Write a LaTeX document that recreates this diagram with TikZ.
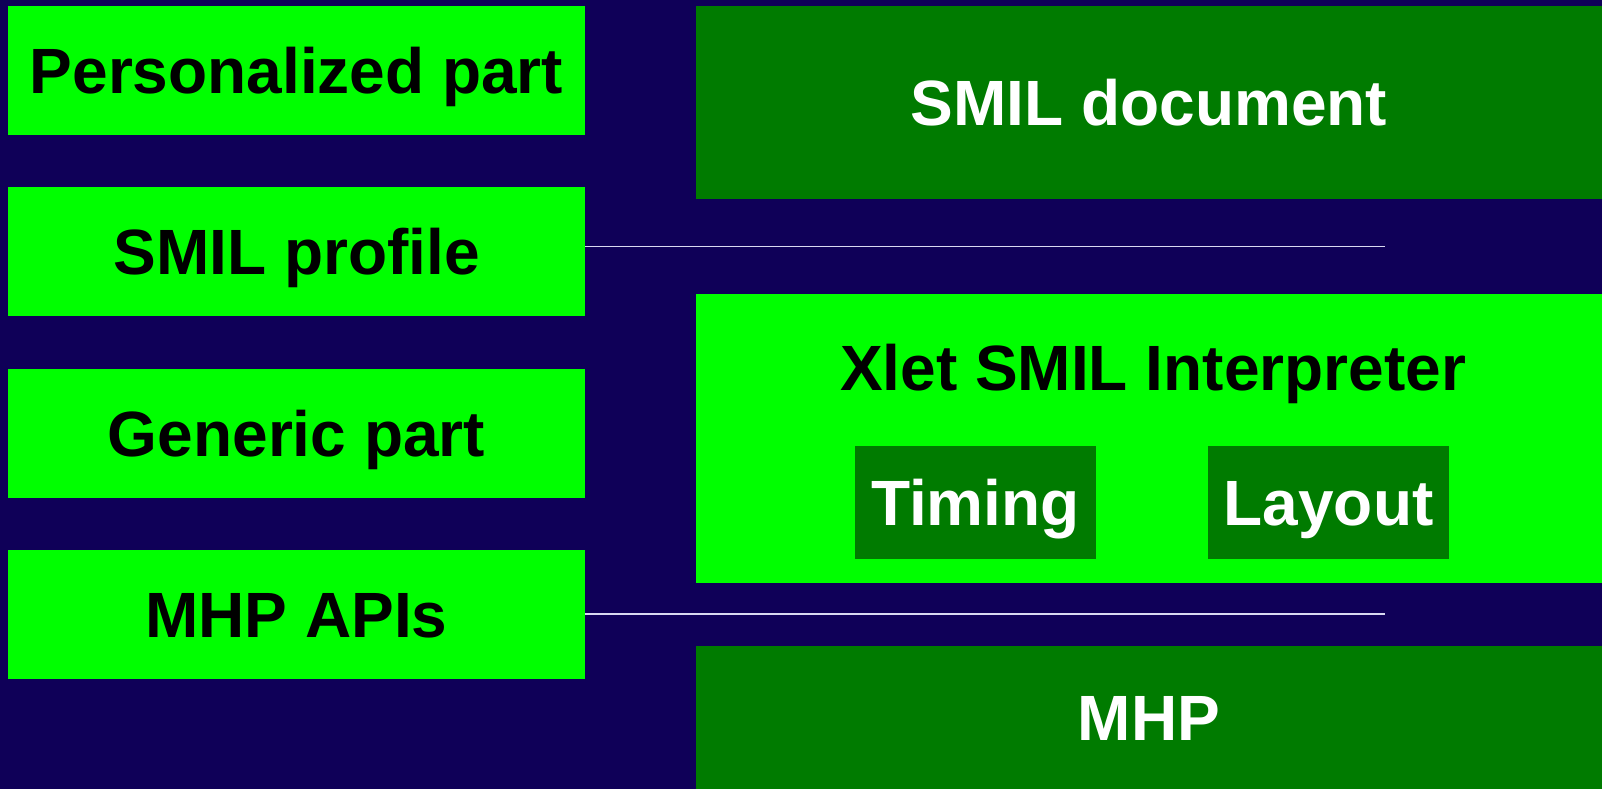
\documentclass[tikz,border=0pt]{standalone}
\usepackage{fontspec}
\setmainfont{Liberation Sans}
\definecolor{navy}{HTML}{0F0058}
\definecolor{lgreen}{HTML}{00FF00}
\definecolor{dgreen}{HTML}{007B00}
\definecolor{rule}{HTML}{D8D8F0}
\begin{document}
\begin{tikzpicture}[x=1pt,y=-1pt,
  base/.style={rectangle, inner sep=0pt, text height=45.8pt, text depth=0pt,
    font=\fontsize{64}{76}\selectfont\bfseries},
  lbox/.style={base, fill=lgreen, text=black},
  dbox/.style={base, fill=dgreen, text=white},
  sep/.style={draw=rule, line width=1.8pt}]
\fill[navy] (0,0) rectangle (1602,789);
\useasboundingbox (0,0) rectangle (1602,789);
% left column
\node[lbox, minimum width=577pt, minimum height=129pt] (pers) at (296.5,70.5) {Personalized part};
\node[lbox, minimum width=577pt, minimum height=129pt] (prof) at (296.5,251.5) {SMIL profile};
\node[lbox, minimum width=577pt, minimum height=129pt] (gen) at (296.5,433.5) {Generic part};
\node[lbox, minimum width=577pt, minimum height=129pt] (apis) at (296.5,614.5) {MHP APIs};
% right column
\node[dbox, minimum width=906pt, minimum height=193pt] (doc) at (1149,102.5) {SMIL document};
\node[fill=lgreen, rectangle, inner sep=0pt, minimum width=906pt, minimum height=289pt] (xlet) at (1149,438.5) {};
\node[base, text=black] (xlett) at (1153,367.5) {Xlet SMIL Interpreter};
\node[dbox, minimum width=241pt, minimum height=113pt] (timing) at (975.5,502.5) {Timing};
\node[dbox, minimum width=241pt, minimum height=113pt] (layout) at (1328.5,502.5) {Layout};
\node[dbox, minimum width=906pt, minimum height=143pt] (mhp) at (1149,717.5) {MHP};
% separators
\coordinate (e1) at (1385,246.5);
\coordinate (e2) at (1385,614);
\draw[sep] (prof.east |- e1) -- (e1);
\draw[sep] (apis.east |- e2) -- (e2);
\end{tikzpicture}
\end{document}
